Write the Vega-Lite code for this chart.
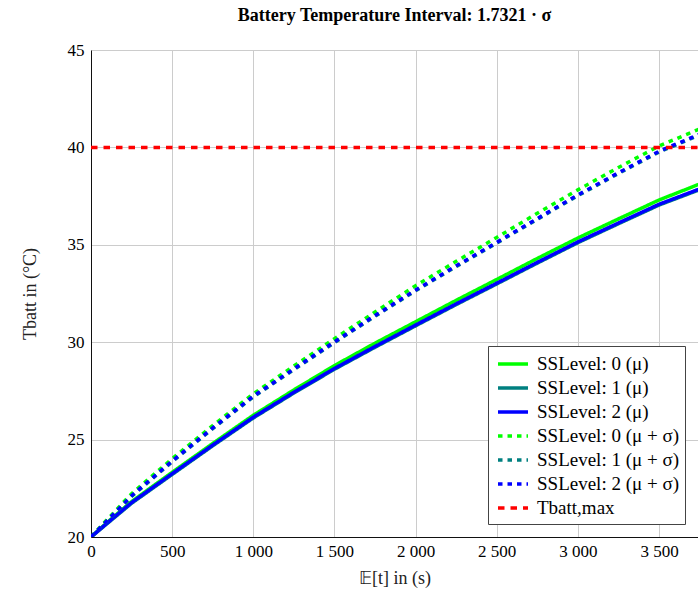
{
  "$schema": "https://vega.github.io/schema/vega-lite/v6.json",
  "width": 607,
  "height": 487,
  "autosize": {"type": "none"},
  "padding": {"left": 91, "top": 50, "right": 0, "bottom": 54},
  "background": "white",
  "title": {
    "text": "Battery Temperature Interval: 1.7321 · σ",
    "font": "Liberation Serif",
    "fontSize": 18,
    "fontWeight": "bold",
    "color": "black",
    "anchor": "middle",
    "offset": 16
  },
  "config": {
    "view": {"stroke": null},
    "axis": {
      "labelFont": "Liberation Serif",
      "labelFontSize": 17,
      "labelColor": "black",
      "titleFont": "Liberation Serif",
      "titleFontSize": 18,
      "titleFontWeight": "normal",
      "titleColor": "#222",
      "gridColor": "#cccccc",
      "gridWidth": 1,
      "gridOpacity": 1,
      "domainColor": "#111",
      "domainWidth": 1,
      "ticks": false
    }
  },
  "data": {
    "values": [
      {"s": "SSLevel: 0 (μ)", "t": 0, "T": 20},
      {"s": "SSLevel: 0 (μ)", "t": 100, "T": 20.75},
      {"s": "SSLevel: 0 (μ)", "t": 250, "T": 21.82},
      {"s": "SSLevel: 0 (μ)", "t": 500, "T": 23.32},
      {"s": "SSLevel: 0 (μ)", "t": 750, "T": 24.8},
      {"s": "SSLevel: 0 (μ)", "t": 1000, "T": 26.25},
      {"s": "SSLevel: 0 (μ)", "t": 1250, "T": 27.55},
      {"s": "SSLevel: 0 (μ)", "t": 1500, "T": 28.8},
      {"s": "SSLevel: 0 (μ)", "t": 1750, "T": 29.95},
      {"s": "SSLevel: 0 (μ)", "t": 2000, "T": 31.05},
      {"s": "SSLevel: 0 (μ)", "t": 2250, "T": 32.15},
      {"s": "SSLevel: 0 (μ)", "t": 2500, "T": 33.22},
      {"s": "SSLevel: 0 (μ)", "t": 2750, "T": 34.3},
      {"s": "SSLevel: 0 (μ)", "t": 3000, "T": 35.35},
      {"s": "SSLevel: 0 (μ)", "t": 3250, "T": 36.33},
      {"s": "SSLevel: 0 (μ)", "t": 3500, "T": 37.3},
      {"s": "SSLevel: 0 (μ)", "t": 3750, "T": 38.12},
      {"s": "SSLevel: 1 (μ)", "t": 0, "T": 20},
      {"s": "SSLevel: 1 (μ)", "t": 100, "T": 20.69},
      {"s": "SSLevel: 1 (μ)", "t": 250, "T": 21.73},
      {"s": "SSLevel: 1 (μ)", "t": 500, "T": 23.21},
      {"s": "SSLevel: 1 (μ)", "t": 750, "T": 24.68},
      {"s": "SSLevel: 1 (μ)", "t": 1000, "T": 26.11},
      {"s": "SSLevel: 1 (μ)", "t": 1250, "T": 27.39},
      {"s": "SSLevel: 1 (μ)", "t": 1500, "T": 28.61},
      {"s": "SSLevel: 1 (μ)", "t": 1750, "T": 29.74},
      {"s": "SSLevel: 1 (μ)", "t": 2000, "T": 30.84},
      {"s": "SSLevel: 1 (μ)", "t": 2250, "T": 31.93},
      {"s": "SSLevel: 1 (μ)", "t": 2500, "T": 32.99},
      {"s": "SSLevel: 1 (μ)", "t": 2750, "T": 34.06},
      {"s": "SSLevel: 1 (μ)", "t": 3000, "T": 35.11},
      {"s": "SSLevel: 1 (μ)", "t": 3250, "T": 36.08},
      {"s": "SSLevel: 1 (μ)", "t": 3500, "T": 37.04},
      {"s": "SSLevel: 1 (μ)", "t": 3750, "T": 37.83},
      {"s": "SSLevel: 2 (μ)", "t": 0, "T": 20},
      {"s": "SSLevel: 2 (μ)", "t": 100, "T": 20.72},
      {"s": "SSLevel: 2 (μ)", "t": 250, "T": 21.77},
      {"s": "SSLevel: 2 (μ)", "t": 500, "T": 23.25},
      {"s": "SSLevel: 2 (μ)", "t": 750, "T": 24.72},
      {"s": "SSLevel: 2 (μ)", "t": 1000, "T": 26.15},
      {"s": "SSLevel: 2 (μ)", "t": 1250, "T": 27.43},
      {"s": "SSLevel: 2 (μ)", "t": 1500, "T": 28.65},
      {"s": "SSLevel: 2 (μ)", "t": 1750, "T": 29.78},
      {"s": "SSLevel: 2 (μ)", "t": 2000, "T": 30.88},
      {"s": "SSLevel: 2 (μ)", "t": 2250, "T": 31.97},
      {"s": "SSLevel: 2 (μ)", "t": 2500, "T": 33.03},
      {"s": "SSLevel: 2 (μ)", "t": 2750, "T": 34.1},
      {"s": "SSLevel: 2 (μ)", "t": 3000, "T": 35.15},
      {"s": "SSLevel: 2 (μ)", "t": 3250, "T": 36.12},
      {"s": "SSLevel: 2 (μ)", "t": 3500, "T": 37.08},
      {"s": "SSLevel: 2 (μ)", "t": 3750, "T": 37.87},
      {"s": "SSLevel: 0 (μ + σ)", "t": 0, "T": 20},
      {"s": "SSLevel: 0 (μ + σ)", "t": 100, "T": 20.9},
      {"s": "SSLevel: 0 (μ + σ)", "t": 250, "T": 22.22},
      {"s": "SSLevel: 0 (μ + σ)", "t": 500, "T": 24.02},
      {"s": "SSLevel: 0 (μ + σ)", "t": 750, "T": 25.72},
      {"s": "SSLevel: 0 (μ + σ)", "t": 1000, "T": 27.35},
      {"s": "SSLevel: 0 (μ + σ)", "t": 1250, "T": 28.78},
      {"s": "SSLevel: 0 (μ + σ)", "t": 1500, "T": 30.18},
      {"s": "SSLevel: 0 (μ + σ)", "t": 1750, "T": 31.55},
      {"s": "SSLevel: 0 (μ + σ)", "t": 2000, "T": 32.9},
      {"s": "SSLevel: 0 (μ + σ)", "t": 2250, "T": 34.15},
      {"s": "SSLevel: 0 (μ + σ)", "t": 2500, "T": 35.38},
      {"s": "SSLevel: 0 (μ + σ)", "t": 2750, "T": 36.62},
      {"s": "SSLevel: 0 (μ + σ)", "t": 3000, "T": 37.82},
      {"s": "SSLevel: 0 (μ + σ)", "t": 3250, "T": 38.97},
      {"s": "SSLevel: 0 (μ + σ)", "t": 3500, "T": 40.07},
      {"s": "SSLevel: 0 (μ + σ)", "t": 3750, "T": 40.95},
      {"s": "SSLevel: 1 (μ + σ)", "t": 0, "T": 20},
      {"s": "SSLevel: 1 (μ + σ)", "t": 100, "T": 20.82},
      {"s": "SSLevel: 1 (μ + σ)", "t": 250, "T": 22.08},
      {"s": "SSLevel: 1 (μ + σ)", "t": 500, "T": 23.86},
      {"s": "SSLevel: 1 (μ + σ)", "t": 750, "T": 25.56},
      {"s": "SSLevel: 1 (μ + σ)", "t": 1000, "T": 27.19},
      {"s": "SSLevel: 1 (μ + σ)", "t": 1250, "T": 28.59},
      {"s": "SSLevel: 1 (μ + σ)", "t": 1500, "T": 29.98},
      {"s": "SSLevel: 1 (μ + σ)", "t": 1750, "T": 31.33},
      {"s": "SSLevel: 1 (μ + σ)", "t": 2000, "T": 32.64},
      {"s": "SSLevel: 1 (μ + σ)", "t": 2250, "T": 33.88},
      {"s": "SSLevel: 1 (μ + σ)", "t": 2500, "T": 35.09},
      {"s": "SSLevel: 1 (μ + σ)", "t": 2750, "T": 36.31},
      {"s": "SSLevel: 1 (μ + σ)", "t": 3000, "T": 37.52},
      {"s": "SSLevel: 1 (μ + σ)", "t": 3250, "T": 38.66},
      {"s": "SSLevel: 1 (μ + σ)", "t": 3500, "T": 39.76},
      {"s": "SSLevel: 1 (μ + σ)", "t": 3750, "T": 40.64},
      {"s": "SSLevel: 2 (μ + σ)", "t": 0, "T": 20},
      {"s": "SSLevel: 2 (μ + σ)", "t": 100, "T": 20.85},
      {"s": "SSLevel: 2 (μ + σ)", "t": 250, "T": 22.12},
      {"s": "SSLevel: 2 (μ + σ)", "t": 500, "T": 23.9},
      {"s": "SSLevel: 2 (μ + σ)", "t": 750, "T": 25.6},
      {"s": "SSLevel: 2 (μ + σ)", "t": 1000, "T": 27.23},
      {"s": "SSLevel: 2 (μ + σ)", "t": 1250, "T": 28.63},
      {"s": "SSLevel: 2 (μ + σ)", "t": 1500, "T": 30.02},
      {"s": "SSLevel: 2 (μ + σ)", "t": 1750, "T": 31.37},
      {"s": "SSLevel: 2 (μ + σ)", "t": 2000, "T": 32.68},
      {"s": "SSLevel: 2 (μ + σ)", "t": 2250, "T": 33.92},
      {"s": "SSLevel: 2 (μ + σ)", "t": 2500, "T": 35.13},
      {"s": "SSLevel: 2 (μ + σ)", "t": 2750, "T": 36.35},
      {"s": "SSLevel: 2 (μ + σ)", "t": 3000, "T": 37.56},
      {"s": "SSLevel: 2 (μ + σ)", "t": 3250, "T": 38.7},
      {"s": "SSLevel: 2 (μ + σ)", "t": 3500, "T": 39.8},
      {"s": "SSLevel: 2 (μ + σ)", "t": 3750, "T": 40.68},
      {"s": "Tbatt,max", "t": 0, "T": 40},
      {"s": "Tbatt,max", "t": 3750, "T": 40}
    ]
  },
  "mark": {"type": "line", "clip": true, "strokeCap": "butt"},
  "encoding": {
    "x": {
      "field": "t",
      "type": "quantitative",
      "scale": {"domain": [0, 3740], "nice": false, "zero": false},
      "axis": {
        "title": "𝔼[t] in (s)",
        "values": [0, 500, 1000, 1500, 2000, 2500, 3000, 3500],
        "labelExpr": "replace(datum.label, ',', ' ')",
        "labelPadding": 6,
        "titlePadding": 10,
        "labelFlush": false
      }
    },
    "y": {
      "field": "T",
      "type": "quantitative",
      "scale": {"domain": [20, 45], "nice": false, "zero": false},
      "axis": {
        "title": "Tbatt in (°C)",
        "values": [20, 25, 30, 35, 40, 45],
        "labelPadding": 7,
        "titlePadding": 28
      }
    },
    "order": {"field": "t", "type": "quantitative"},
    "color": {
      "field": "s",
      "type": "nominal",
      "sort": null,
      "scale": {
        "domain": ["SSLevel: 0 (μ)", "SSLevel: 1 (μ)", "SSLevel: 2 (μ)", "SSLevel: 0 (μ + σ)", "SSLevel: 1 (μ + σ)", "SSLevel: 2 (μ + σ)", "Tbatt,max"],
        "range": ["#00ff00", "#008080", "#0000ff", "#00ff00", "#008080", "#0000ff", "#ff0000"]
      },
      "legend": {
        "title": null,
        "orient": "none",
        "legendX": 397,
        "legendY": 296,
        "symbolType": "M-1.5,0H1.5",
        "symbolSize": 400,
        "symbolStrokeWidth": 3.5,
        "symbolOffset": 7,
        "labelOffset": 12,
        "labelFont": "Liberation Serif",
        "labelFontSize": 19,
        "labelColor": "black",
        "strokeColor": "#444",
        "fillColor": "white",
        "padding": 6,
        "rowPadding": 2,
        "labelLimit": 300
      }
    },
    "strokeDash": {
      "field": "s",
      "type": "nominal",
      "sort": null,
      "scale": {
        "domain": ["SSLevel: 0 (μ)", "SSLevel: 1 (μ)", "SSLevel: 2 (μ)", "SSLevel: 0 (μ + σ)", "SSLevel: 1 (μ + σ)", "SSLevel: 2 (μ + σ)", "Tbatt,max"],
        "range": [[1, 0], [1, 0], [1, 0], [4.5, 5], [4.5, 5], [4.5, 5], [6.5, 6]]
      },
      "legend": {
        "title": null,
        "orient": "none",
        "legendX": 397,
        "legendY": 296,
        "symbolType": "M-1.5,0H1.5",
        "symbolSize": 400,
        "symbolStrokeWidth": 3.5,
        "symbolOffset": 7,
        "labelOffset": 12,
        "labelFont": "Liberation Serif",
        "labelFontSize": 19,
        "labelColor": "black",
        "strokeColor": "#444",
        "fillColor": "white",
        "padding": 6,
        "rowPadding": 2,
        "labelLimit": 300
      }
    },
    "strokeWidth": {
      "field": "s",
      "type": "nominal",
      "sort": null,
      "scale": {
        "domain": ["SSLevel: 0 (μ)", "SSLevel: 1 (μ)", "SSLevel: 2 (μ)", "SSLevel: 0 (μ + σ)", "SSLevel: 1 (μ + σ)", "SSLevel: 2 (μ + σ)", "Tbatt,max"],
        "range": [3.5, 3.5, 3.5, 4, 4, 4, 2.8]
      },
      "legend": null
    }
  }
}
